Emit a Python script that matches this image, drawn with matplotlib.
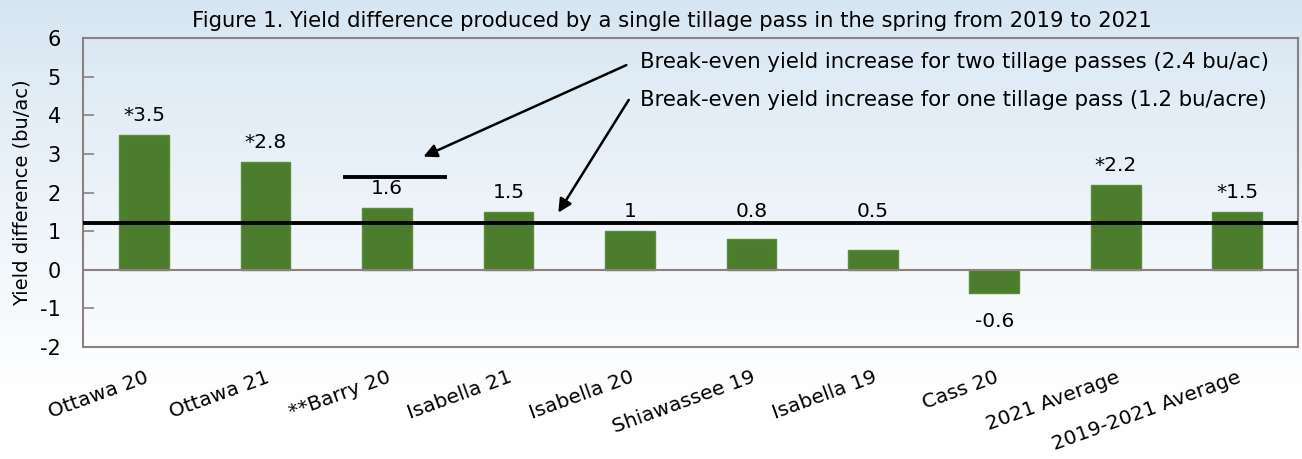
import numpy as np
import matplotlib.pyplot as plt

plt.rcParams['axes.unicode_minus'] = False

# data
sites = ['Ottawa 20', 'Ottawa 21', '**Barry 20', 'Isabella 21', 'Isabella 20',
         'Shiawassee 19', 'Isabella 19', 'Cass 20', '2021 Average', '2019-2021 Average']
yield_diff = [3.5, 2.8, 1.6, 1.5, 1.0, 0.8, 0.5, -0.6, 2.2, 1.5]
value_labels = ['*3.5', '*2.8', '1.6', '1.5', '1', '0.8', '0.5', '-0.6', '*2.2', '*1.5']
break_even_one = 1.2
break_even_two = 2.4

fig = plt.figure(figsize=(13.02, 4.59), dpi=100)

# sky-ish background gradient
bg = fig.add_axes([0, 0, 1, 1], zorder=-10)
grad = np.linspace(0, 1, 256)[:, None]
top = np.array([0.84, 0.90, 0.95])
bot = np.array([1.0, 1.0, 1.0])
img = top + (bot - top) * np.clip(grad * 1.15, 0, 1) ** 0.9
img = np.repeat(img[:, None, :], 2, axis=1)
bg.imshow(img, aspect='auto', extent=[0, 1, 0, 1])
bg.axis('off')

ax = fig.add_axes([0.064, 0.244, 0.933, 0.673])
ax.patch.set_alpha(0)
x = np.arange(len(sites))
ax.bar(x, yield_diff, width=0.41, color='#4c7d2c', edgecolor='#5c8c3a', linewidth=1, zorder=2)

ax.set_xlim(-0.5, len(sites) - 0.5)
ax.set_ylim(-2, 6)
ax.set_yticks(range(-2, 7))
ax.tick_params(axis='y', direction='in', length=8, width=1.2, color='#8c8080',
               labelsize=15, pad=16)
ax.set_xticks(x)
ax.set_xticklabels(sites, rotation=20, ha='right', rotation_mode='anchor', fontsize=14.5)
ax.tick_params(axis='x', length=0, pad=15)
for s in ax.spines.values():
    s.set_color('#8c8080')
    s.set_linewidth(1.5)
ax.axhline(0, color='#8c8080', lw=1.5, zorder=3)

# break-even lines
ax.axhline(break_even_one, color='black', lw=2.8, zorder=4)
ax.plot([1.65, 2.48], [break_even_two, break_even_two], color='black', lw=2.8, zorder=4)

# value labels
for xi, v, lab in zip(x, yield_diff, value_labels):
    if v >= 0:
        yy = max(v, 1.0) + 0.5
    else:
        yy = v - 0.75
    ax.text(xi, yy, lab, ha='center', va='center', fontsize=14.5)

# break-even notes and arrows
ax.text(4.08, 5.39, 'Break-even yield increase for two tillage passes (2.4 bu/ac)',
        ha='left', va='center', fontsize=15.3)
ax.text(4.08, 4.40, 'Break-even yield increase for one tillage pass (1.2 bu/acre)',
        ha='left', va='center', fontsize=15.3)
arrow = dict(arrowstyle='-|>', color='black', lw=1.8, mutation_scale=20, shrinkA=0, shrinkB=0)
ax.annotate('', xy=(2.3, 2.93), xytext=(3.97, 5.3), arrowprops=arrow)
ax.annotate('', xy=(3.41, 1.48), xytext=(3.99, 4.4), arrowprops=arrow)

ax.set_ylabel('Yield difference (bu/ac)', fontsize=14)
ax.yaxis.set_label_coords(-0.043, 0.5)
fig.text(0.516, 0.955, 'Figure 1. Yield difference produced by a single tillage pass in the spring from 2019 to 2021',
         ha='center', va='center', fontsize=15.2)

fig.savefig('out.png', dpi=100)
